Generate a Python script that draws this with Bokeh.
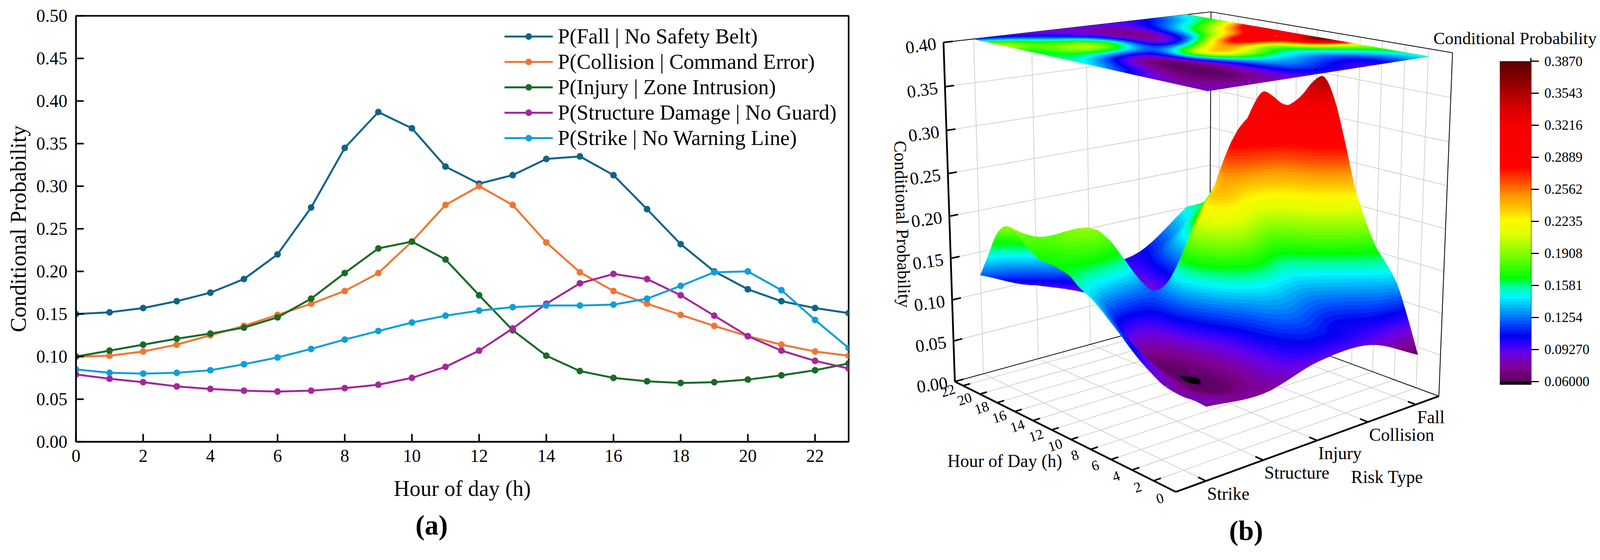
import numpy as np
from bokeh.embed import file_html
from bokeh.resources import INLINE
from bokeh.layouts import row, column
from bokeh.plotting import figure
from bokeh.core.properties import value
from bokeh.models import (ColorBar, ColumnDataSource, FixedTicker, Legend, LegendItem,
                          LinearColorMapper, Range1d, Title)
from bokeh.transform import transform

# ---------- data ----------
hours = list(range(24))
fall = [.150, .152, .157, .165, .175, .191, .220, .275, .345, .387, .368, .323,
        .303, .313, .332, .335, .313, .273, .232, .200, .179, .165, .157, .151]
collision = [.100, .101, .106, .114, .125, .136, .149, .162, .177, .198, .235, .278,
             .300, .278, .234, .199, .177, .162, .149, .136, .124, .114, .106, .101]
injury = [.100, .107, .114, .121, .127, .134, .146, .168, .198, .227, .235, .214,
          .172, .131, .101, .083, .075, .071, .069, .070, .073, .078, .084, .092]
structure = [.079, .074, .070, .065, .062, .060, .059, .060, .063, .067, .075, .088,
             .107, .133, .162, .186, .197, .191, .172, .148, .124, .107, .095, .086]
strike = [.085, .081, .080, .081, .084, .091, .099, .109, .120, .130, .140, .148,
          .154, .158, .160, .160, .161, .168, .183, .199, .200, .178, .143, .110]

series_labels = ["P(Fall | No Safety Belt)", "P(Collision | Command Error)", "P(Injury | Zone Intrusion)",
                 "P(Structure Damage | No Guard)", "P(Strike | No Warning Line)"]
series_colors = ["#0f6488", "#f07632", "#186b26", "#a5279b", "#0d9fd8"]
x_ticks_a = list(range(0, 24, 2))
y_ticks_a = [0, .05, .10, .15, .20, .25, .30, .35, .40, .45, .50]

risk_types = ["Strike", "Structure", "Injury", "Collision", "Fall"]
# the drawn 3D surface is a smoothed one: its rows
surf_fall = [.060, .100, .135, .155, .172, .200, .235, .285, .330, .355, .348, .330,
             .315, .313, .320, .322, .300, .265, .230, .200, .180, .165, .157, .151]
surf_collision = [.090, .101, .106, .114, .125, .136, .149, .162, .177, .198, .235, .278,
                  .300, .278, .234, .199, .177, .162, .149, .136, .124, .114, .108, .105]
surf_injury = [.090, .107, .114, .121, .127, .134, .146, .168, .198, .227, .235, .214,
               .172, .131, .101, .083, .075, .071, .069, .070, .073, .078, .086, .098]
surf_structure = [.074, .074, .070, .065, .062, .0612, .0598, .0612, .063, .067, .075, .088,
                  .107, .133, .162, .180, .188, .183, .170, .148, .124, .107, .097, .094]
surf_strike = [.080, .081, .080, .081, .084, .091, .099, .109, .120, .130, .140, .148,
               .154, .163, .166, .168, .168, .174, .182, .192, .192, .178, .150, .122]
z_ticks_b = [0, .05, .10, .15, .20, .25, .30, .35, .40]
z_labels_b = ["0.00", "0.05", "0.10", "0.15", "0.20", "0.25", "0.30", "0.35", "0.40"]
hour_ticks_b = list(range(0, 24, 2))
cb_ticks = [.06, .0927, .1254, .1581, .1908, .2235, .2562, .2889, .3216, .3543, .387]
cb_labels = ["0.06000", "0.09270", "0.1254", "0.1581", "0.1908", "0.2235", "0.2562",
             "0.2889", "0.3216", "0.3543", "0.3870"]
cmap_values = [.0600, .0737, .0893, .0986, .107, .120, .134, .147, .158, .166, .190, .2107,
               .226, .234, .248, .260, .273, .279, .320, .335, .354, .370, .387]
cmap_colors = ["#5a0060", "#800090", "#6a00e8", "#3000ff", "#0000f0", "#0050ff", "#00a8f8", "#00f8ff",
               "#00ff90", "#00ff00", "#80ff00", "#e0ff00", "#fff800", "#ffd000", "#ffa000", "#ff6000",
               "#ff2000", "#ff0000", "#f80000", "#e00000", "#b00000", "#800000", "#5a0000"]

SERIF = "Liberation Serif"
K = 4096 / 4152   # the photographed page is 4096 CSS px wide; reference pixels -> CSS pixels


def S(px):
    return int(round(px * K))


def F(px):
    return f"{px * K:.1f}px"


# ---------- panel (a) ----------
A_L, A_R, A_T, A_B = 197, 2202, 41, 1145   # frame in reference pixels
pa = figure(frame_width=S(A_R) - S(A_L), frame_height=S(A_B) - S(A_T), output_backend="svg", toolbar_location=None,
            x_range=Range1d(0, 23), y_range=Range1d(0, .5),
            min_border_left=S(A_L), min_border_right=S(2300) - S(A_R),
            min_border_top=S(A_T), min_border_bottom=S(1433) - S(A_B))
pa.grid.visible = False
pa.outline_line_color = "black"
pa.outline_line_width = 4
items = []
for vals, lab, col in zip([fall, collision, injury, structure, strike], series_labels, series_colors):
    rl = pa.line(hours, vals, line_color=col, line_width=5)
    rc = pa.scatter(hours, vals, size=17, fill_color=col, line_color=col, line_width=0)
    items.append(LegendItem(label=lab, renderers=[rl, rc]))
leg = Legend(items=items, location=(S(1112), S(756)), glyph_width=S(126), glyph_height=42, label_standoff=S(13),
             padding=0, margin=0, spacing=S(3), border_line_color=None, background_fill_alpha=0,
             label_text_font=SERIF, label_text_font_size=F(55), label_text_color="black")
pa.add_layout(leg, "center")

pa.xaxis.ticker = FixedTicker(ticks=x_ticks_a)
pa.yaxis.ticker = FixedTicker(ticks=y_ticks_a)
pa.yaxis.major_label_overrides = {t: f"{t:.2f}" for t in y_ticks_a}
for ax in (pa.xaxis[0], pa.yaxis[0]):
    ax.major_tick_in = 20
    ax.major_tick_out = 0
    ax.minor_tick_line_color = None
    ax.major_tick_line_width = 4
    ax.major_tick_line_color = "black"
    ax.axis_line_color = "black"
    ax.axis_line_width = 4
    ax.major_label_text_font = SERIF
    ax.major_label_text_font_size = F(46)
    ax.major_label_text_color = "black"
    ax.axis_label_text_font = SERIF
    ax.axis_label_text_font_size = F(57)
    ax.axis_label_text_font_style = "normal"
    ax.axis_label_text_color = "black"
pa.xaxis.axis_label = "Hour of day (h)"
pa.yaxis.axis_label = "Conditional Probability"
pa.xaxis.major_label_standoff = 20
pa.yaxis.major_label_standoff = 22
pa.xaxis.axis_label_standoff = 34
pa.yaxis.axis_label_standoff = 12
pa.add_layout(Title(text="(a)", align="left", offset=S(1119 - A_L - 41), standoff=38, text_font=SERIF,
                    text_font_size=F(72), text_font_style="bold", text_color="black"), "below")

# ---------- panel (b): calibrated perspective projection ----------
world = np.array([(0, 0, 0), (0, 1, 0), (1, 0, 0), (1, 1, 0), (1, 0, 1), (1, 1, 1), (0, 1, 1),
                  (1, .1, 1), (1, .9, 1), (0, .9, 1), (0, .1, 1)], float)
page = np.array([(3050, 1280), (3733, 1024), (2476.5, 983), (3140, 812), (2447.6, 110), (3144.4, 30), (3782, 137),
                 (2524, 100.6), (3079.5, 38.4), (3687.8, 141.7), (3141, 237.8)], float)
norm = (page - np.array([3000, 600])) / 1000
A, b = [], []
for (X, Y, Z), (x, y) in zip(world, norm):
    A.append([X, Y, Z, 1, 0, 0, 0, 0, -x * X, -x * Y, -x * Z]); b.append(x)
    A.append([0, 0, 0, 0, X, Y, Z, 1, -y * X, -y * Y, -y * Z]); b.append(y)
sol = np.linalg.lstsq(np.array(A), np.array(b), rcond=None)[0]
PM = np.append(sol, 1.0).reshape(3, 4)


def proj(u, v, w):
    u, v, w = np.asarray(u, float), np.asarray(v, float), np.asarray(w, float)
    d = PM[2, 0] * u + PM[2, 1] * v + PM[2, 2] * w + PM[2, 3]
    sx = (PM[0, 0] * u + PM[0, 1] * v + PM[0, 2] * w + PM[0, 3]) / d
    sy = (PM[1, 0] * u + PM[1, 1] * v + PM[1, 2] * w + PM[1, 3]) / d
    return sx * 1000 + 3000, sy * 1000 + 600


def U(h):
    return np.asarray(h, float) / 23


def W(z):
    return np.asarray(z, float) / .4


V = np.array([.1, .3, .5, .7, .9])


def seg(p1, p2):
    x, y = proj([p1[0], p2[0]], [p1[1], p2[1]], [p1[2], p2[2]])
    return list(map(float, x)), list(map(float, y))


def smooth(arr, n, axis):
    """Catmull-Rom resampling of the mesh, for a smooth drawn surface."""
    arr = np.moveaxis(np.asarray(arr, float), axis, 0)
    m = arr.shape[0]
    g = np.concatenate([[2 * arr[0] - arr[1]], arr, [2 * arr[-1] - arr[-2]]])
    t = np.linspace(0, m - 1, (m - 1) * n + 1)
    i = np.minimum(t.astype(int), m - 2)
    f = (t - i).reshape((-1,) + (1,) * (arr.ndim - 1))
    p0, p1, p2, p3 = g[i], g[i + 1], g[i + 2], g[i + 3]
    out = .5 * (2 * p1 + (p2 - p0) * f + (2 * p0 - 5 * p1 + 4 * p2 - p3) * f ** 2 + (3 * p1 - p0 - 3 * p2 + p3) * f ** 3)
    return np.moveaxis(out, 0, axis)


STEP = .00327
BASE = .06 - STEP


def clip(poly, lim, keep_above):
    out = []
    for i in range(len(poly)):
        a, c = poly[i], poly[(i + 1) % len(poly)]
        ina = a[2] >= lim if keep_above else a[2] <= lim
        inc = c[2] >= lim if keep_above else c[2] <= lim
        if ina:
            out.append(a)
        if ina != inc:
            t = (lim - a[2]) / (c[2] - a[2])
            out.append((a[0] + t * (c[0] - a[0]), a[1] + t * (c[1] - a[1]), lim))
    return out


def mesh(matrix, nr, nh, flat_w=None):
    """Split each mesh triangle into its colour bands, far cells first."""
    Z = smooth(smooth(matrix, nr, 0), nh, 1)
    if flat_w is not None:
        Z = np.maximum(Z, .0605)
    vv = np.linspace(V[0], V[-1], Z.shape[0])
    uu = np.linspace(0, 1, Z.shape[1])
    UU, VV = np.meshgrid(uu, vv)
    ww = Z / .4 if flat_w is None else np.full_like(Z, flat_w)
    PX, PY = proj(UU, VV, ww)
    xs, ys, zs = [], [], []
    for h in range(Z.shape[1] - 2, -1, -1):
        for r in range(Z.shape[0] - 2, -1, -1):
            c = [(PX[a, e], PY[a, e], Z[a, e]) for a, e in ((r, h), (r, h + 1), (r + 1, h + 1), (r + 1, h))]
            for tri in ([c[0], c[1], c[2]], [c[0], c[2], c[3]]):
                zv = [t[2] for t in tri]
                for bi in range(int((min(zv) - BASE) // STEP), int((max(zv) - BASE) // STEP) + 1):
                    lo, hi = BASE + bi * STEP, BASE + (bi + 1) * STEP
                    poly = clip(clip(tri, lo, True), hi, False) if min(zv) < lo or max(zv) > hi else tri
                    if len(poly) >= 3:
                        xs.append([round(float(q[0]), 1) for q in poly])
                        ys.append([round(float(q[1]), 1) for q in poly])
                        zs.append(lo + STEP / 2)
    return ColumnDataSource(dict(xs=xs, ys=ys, z=zs))


levels = np.arange(.06, .387, STEP)
rgb = np.array([[int(c[i:i + 2], 16) for i in (1, 3, 5)] for c in cmap_colors], float)
palette = ["#000000"] + ["#%02x%02x%02x" % tuple(int(round(np.interp(l + STEP / 2, cmap_values, rgb[:, k])))
                                                 for k in range(3)) for l in levels]
mapper = LinearColorMapper(palette=palette, low=BASE, high=BASE + STEP * len(palette))

pb = figure(frame_width=S(4152) - S(2300), frame_height=S(1433), output_backend="svg", toolbar_location=None,
            x_range=Range1d(2300, 4152), y_range=Range1d(1433, 0),
            min_border=0, x_axis_type=None, y_axis_type=None, outline_line_color=None)
pb.grid.visible = False

GRAY = "#c8c8c8"
gx, gy = [], []
for h in hour_ticks_b:
    for a, c in [((U(h), 0, 0), (U(h), 1, 0)), ((U(h), 1, 0), (U(h), 1, 1))]:
        x, y = seg(a, c); gx.append(x); gy.append(y)
for v in V:
    for a, c in [((0, v, 0), (1, v, 0)), ((1, v, 0), (1, v, 1))]:
        x, y = seg(a, c); gx.append(x); gy.append(y)
for z in z_ticks_b[1:-1]:
    for a, c in [((1, 0, W(z)), (1, 1, W(z))), ((1, 1, W(z)), (0, 1, W(z)))]:
        x, y = seg(a, c); gx.append(x); gy.append(y)
pb.multi_line(gx, gy, line_color=GRAY, line_width=1.6)

fx, fy = [], []
for a, c in [((1, 0, 0), (1, 1, 0)), ((1, 1, 0), (0, 1, 0)), ((1, 1, 0), (1, 1, 1)), ((1, 0, 1), (1, 1, 1)),
             ((1, 1, 1), (0, 1, 1)), ((0, 1, 1), (0, 1, 0))]:
    x, y = seg(a, c); fx.append(x); fy.append(y)
pb.multi_line(fx, fy, line_color="black", line_width=2)

# flat projection on the 0.40 plane, then the surface
flat_src = mesh([strike, structure, injury, collision, fall], 4, 3, flat_w=1.0)
pb.patches("xs", "ys", source=flat_src, fill_color=transform("z", mapper), line_color=transform("z", mapper), line_width=1)

surf = np.array([surf_strike, surf_structure, surf_injury, surf_collision, surf_fall], float)
surf_src = mesh(surf, 8, 4)
pb.patches("xs", "ys", source=surf_src, fill_color=transform("z", mapper), line_color=transform("z", mapper), line_width=1)

# bold axes and ticks
bx, by = [], []
for a, c in [((1, 0, 0), (0, 0, 0)), ((0, 0, 0), (0, 1, 0)), ((1, 0, 0), (1, 0, 1))]:
    x, y = seg(a, c); bx.append(x); by.append(y)
pb.multi_line(bx, by, line_color="black", line_width=4.5)
tx, ty = [], []
for h in hour_ticks_b[1:]:
    x, y = seg((U(h), 0, 0), (U(h), .024, 0)); tx.append(x); ty.append(y)
for v in V:
    x, y = seg((0, v, 0), (.03, v, 0)); tx.append(x); ty.append(y)
for z in z_ticks_b:
    x, y = seg((1, 0, W(z)), (1, .03, W(z))); tx.append(x); ty.append(y)
pb.multi_line(tx, ty, line_color="black", line_width=4)


def txt(x, y, t, size, **kw):
    pb.text(x=x, y=y, text=t, text_font=value(SERIF), text_font_size=value(F(size)), text_color="black",
            text_baseline=kw.pop("baseline", "middle"), text_align=kw.pop("align", "center"), **kw)


lx, ly = proj(np.ones(len(z_ticks_b)), np.zeros(len(z_ticks_b)), W(z_ticks_b))
txt(lx.tolist(), ly.tolist(), z_labels_b, 46, x_offset=-58, y_offset=8, angle=8, angle_units="deg")
hx, hy = proj(U(hour_ticks_b), -.052 * np.ones(len(hour_ticks_b)), np.zeros(len(hour_ticks_b)))
txt(hx.tolist(), hy.tolist(), [str(h) for h in hour_ticks_b], 37, angle=18, angle_units="deg", y_offset=2)
rx, ry = proj(np.zeros(5), V, np.zeros(5))
txt(rx.tolist(), ry.tolist(), risk_types, 46, align="left", x_offset=3, y_offset=33)
txt([3599], [1237], ["Risk Type"], 46)
txt([2607], [1195], ["Hour of Day (h)"], 46)
txt([2341], [581], ["Conditional Probability"], 46, angle=-88.5, angle_units="deg")
txt([3931], [99], ["Conditional Probability"], 45)
txt([3233], [1376], ["(b)"], 72, text_font_style="bold")

# colour bar
cb = ColorBar(color_mapper=mapper, width=S(81), height=S(839), location=(S(3891 - 2300), S(1433 - 997)), padding=0, margin=0,
              ticker=FixedTicker(ticks=cb_ticks), major_label_overrides=dict(zip(cb_ticks, cb_labels)),
              major_tick_in=0, major_tick_out=20, major_tick_line_color="black", major_tick_line_width=3,
              minor_tick_line_color=None, bar_line_color=None, label_standoff=14,
              major_label_text_font=SERIF, major_label_text_font_size=F(36), major_label_text_color="black",
              background_fill_alpha=0)
pb.add_layout(cb, "center")
pb.line([3972, 3972], [150, 997], line_color="black", line_width=3)

open("out.html", "w").write(file_html(row(column(pa), column(pb)), INLINE))
